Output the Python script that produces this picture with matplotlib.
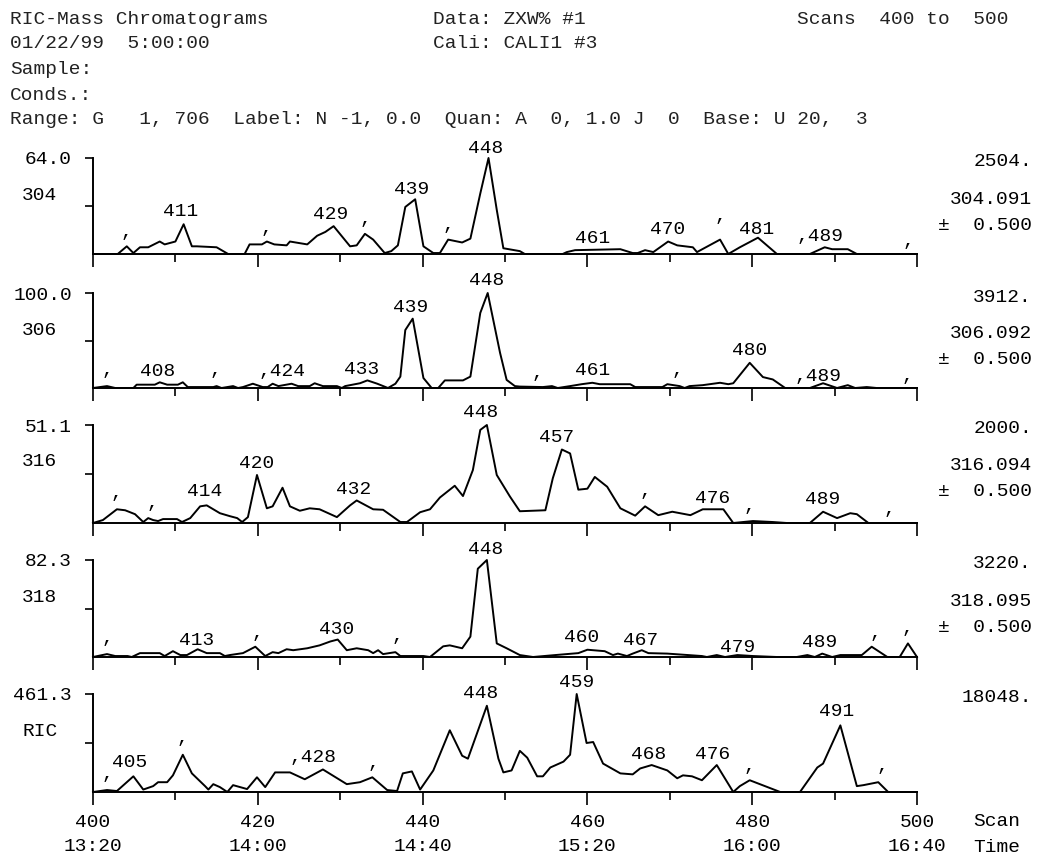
import matplotlib
matplotlib.use("Agg")
import matplotlib.pyplot as plt

# ---- data (scan number, % of panel maximum) ----
scan_304 = [400, 403, 404.1, 404.9, 405.7, 406.7, 408.1, 408.7, 410, 411, 412, 412.6, 415, 416.4,
            418.4, 419, 420.5, 421.1, 422, 423.5, 423.9, 426, 427.2, 428.2, 429.2, 431.2, 432, 433,
            434, 435.4, 436.2, 437, 437.9, 439.1, 440.1, 441.3, 442.1, 443.1, 444.8, 445.8, 447, 448,
            449, 449.8, 451.8, 452.4, 457, 457.5, 458.5, 464, 465.5, 466.1, 467, 468, 469.8, 470.9,
            472.8, 473.3, 476.1, 477.1, 478.5, 480.7, 483, 487, 488.8, 489.7, 491.6, 492.7, 500]
int_304 = [0, 0, 8, 1, 7, 7, 13, 10, 13, 31, 8, 8, 7, 0,
           0, 10, 10, 13, 10, 9, 13, 10, 19, 23, 29, 8, 9, 21,
           15, 1, 3, 9, 49, 57, 8, 1, 1, 15, 12, 16, 63, 100,
           46, 6, 3, 0, 0, 2, 4, 5, 1, 1, 4, 2, 13, 9,
           7, 2, 15, 0, 7, 17, 0, 0, 7, 5, 5, 0, 0]

scan_306 = [400, 401.7, 402.7, 404.9, 405.3, 407.5, 408.1, 409, 410.3, 410.9, 411.5, 414.6, 415,
            415.6, 417, 417.6, 418.2, 419.4, 420.6, 421.2, 421.8, 422.5, 424.1, 424.9, 426.3, 426.9,
            427.9, 429.6, 430.2, 430.6, 432.4, 433.3, 434.5, 435.8, 436.7, 437.3, 437.9, 438.8,
            440.1, 441.1, 441.9, 442.7, 444.9, 445.8, 447, 447.9, 449.4, 450.2, 451.2, 451.8, 454.6,
            455.7, 456.4, 457.9, 459.3, 460.6, 461.5, 465.2, 465.8, 469.1, 469.7, 471.2, 471.8,
            472.4, 474, 476.1, 477.1, 477.7, 479.7, 481.3, 482.5, 484, 487, 488.6, 490.3, 491.6,
            492.5, 493.9, 495.1, 500]
int_306 = [0, 2, 0, 0, 3.5, 3.5, 6, 3.5, 3.5, 6, 1, 1, 2,
           0, 2, 0, 1, 4.5, 1, 1, 4.5, 2, 4.5, 2, 2, 5,
           2, 2, 0, 2, 5, 8, 4.5, 0, 4.5, 12, 61, 73,
           10.5, 0, 0, 8, 8, 12, 79, 100, 37, 8.5, 2, 1.5, 1,
           2, 0, 2, 4, 5.5, 4, 4, 1, 1, 4, 2, 0,
           2, 3, 5.5, 4, 5, 26.5, 11.5, 9, 0, 0, 5, 0, 3,
           0, 1, 0, 0]

scan_316 = [400, 401.2, 402.9, 403.9, 405.1, 406.1, 406.7, 407.3, 407.9, 408.5, 410.2, 410.8, 411.8,
            413, 413.8, 415.4, 416.6, 417.5, 418.1, 418.8, 419.9, 421.1, 421.8, 423, 423.9, 425.1,
            426.3, 427.5, 429.6, 431.2, 432, 434, 435.2, 437.3, 438.1, 439.7, 440.9, 442.1, 443.9,
            444.9, 446.1, 447, 447.8, 449, 450.6, 451.8, 454.9, 455.8, 456.9, 457.9, 458.9, 460,
            460.9, 462.4, 464, 465.8, 467, 468.6, 470.3, 472.5, 474, 476.5, 477.7, 480.1, 482.5,
            484.2, 487, 488.6, 490.3, 491.9, 492.7, 494.1, 500]
int_316 = [0, 3, 14, 13, 9, 1, 5, 3, 2, 4, 4, 1, 5,
           17, 18, 10, 7, 5, 1, 6, 49, 15, 17, 36, 17, 12.5,
           15, 14, 6, 18, 23, 14, 13.5, 1, 1, 11, 14, 26, 38,
           27.5, 54, 95, 100, 49, 27, 12, 13, 45.6, 75, 71, 34, 35,
           47, 37, 15, 7.5, 17, 8, 11.5, 8, 14, 14, 0, 2, 1,
           0, 0, 11.5, 5, 10, 9, 0, 0]

scan_318 = [400, 401.7, 402.7, 404.2, 404.7, 405.7, 408.1, 408.7, 409.7, 410.6, 411.4, 412.7, 413.8,
            415.4, 416, 416.6, 418.2, 419.7, 420.9, 421.8, 422.5, 423.5, 424.3, 426, 427.5, 428.8,
            429.7, 430.8, 432, 433.4, 434, 434.6, 435.2, 436.7, 437.3, 440.1, 440.9, 442.5, 443.3,
            444.8, 445.8, 446.7, 447.8, 449, 450.2, 451.8, 453.4, 456.1, 458.9, 460, 462.1, 463.1,
            463.7, 464.8, 465.5, 466.6, 467.4, 469.7, 473.9, 474.5, 475.7, 476.7, 478.2, 480.1, 483,
            485.4, 486.7, 487.6, 488.5, 489.7, 490.7, 493.3, 494.5, 496.4, 497.9, 498.9, 500]
int_318 = [0, 3, 1, 1, 0, 4, 4, 1, 6, 2, 2, 8, 4,
           4, 1, 2, 4, 10.6, 1, 5, 4, 8, 7, 9, 12, 16,
           18, 7, 9, 7, 4, 7, 3, 5, 1, 1, 0, 11, 12,
           9, 21, 91, 100, 14, 9, 2, 0, 2, 4, 7.5, 6, 2,
           3.5, 1, 3.5, 7, 4, 3.5, 1, 0, 2, 0, 2, 1, 0,
           0, 2, 0, 3.5, 0, 2, 2, 10.6, 0, 0, 14, 0]

scan_ric = [400, 401.7, 402.9, 404.9, 406.1, 407.3, 407.9, 409, 409.7, 410.9, 412, 413.6, 414,
            414.6, 415.4, 416.3, 417, 418.7, 419.9, 420.9, 422.1, 423.9, 425.7, 427.9, 430.8, 432.4,
            433.9, 435.7, 436.9, 437.6, 438.7, 439.7, 441.3, 443.3, 444.8, 445.5, 447.8, 449.2,
            449.8, 450.8, 451.8, 452.7, 453.9, 454.6, 455.5, 457.1, 457.9, 458.7, 459.9, 460.7,
            461.9, 464, 465.5, 466.4, 467.8, 469.7, 470.9, 471.6, 472.7, 473.9, 475.7, 477.7, 478.5,
            479.7, 483.4, 485.8, 487.9, 488.6, 490.7, 492.7, 493.5, 495.3, 496.5, 500]
int_ric = [0, 2, 1, 16, 2.5, 6, 10, 10, 17, 38, 19, 6, 2.5,
           8, 5, 0, 7, 3, 15, 5, 20, 20, 13, 23, 8, 10,
           15, 2, 1, 19, 21, 2.5, 22, 63, 37, 34, 88, 34,
           20, 22, 42, 35, 16, 16, 25, 31, 38, 100, 50, 51,
           29, 19, 18, 24, 27.5, 22, 14, 17, 16, 12, 27.5, 0, 6,
           12, 0, 0, 25, 29, 68, 6, 7, 10, 0, 0]

# peak labels: text, scan, height (% of panel)
lab_304 = ["411", "429", "439", "448", "461", "470", "481", ",489", ",", ",", ",", ",", ",", ","]
lx_304 = [410.6, 428.8, 438.7, 447.6, 460.6, 469.7, 480.5, 488.2, 404.1, 421.1, 433.0, 443.1, 476.1, 498.9]
ly_304 = [44, 41, 67, 110, 16, 26, 26, 18, 22, 27, 36, 30, 39, 13]

lab_306 = ["408", ",424", "433", "439", "448", "461", "480", ",489", ",", ",", ",", ",", ","]
lx_306 = [407.8, 422.9, 432.6, 438.5, 447.8, 460.6, 479.7, 488.0, 401.8, 414.8, 453.9, 470.9, 498.8]
ly_306 = [17, 17, 19, 85, 113, 18, 39, 12.6, 18, 18, 15.5, 18, 12]

lab_316 = ["414", "420", "432", "448", "457", "476", "489", ",", ",", ",", ",", ","]
lx_316 = [413.6, 419.9, 431.6, 447.0, 456.3, 475.2, 488.5, 402.9, 407.2, 467.0, 479.7, 496.7]
ly_316 = [32, 61, 34, 113, 87, 25.5, 23.5, 30.5, 20, 32.5, 17, 14]

lab_318 = ["413", "430", "448", "460", "467", "479", "489", ",", ",", ",", ",", ","]
lx_318 = [412.6, 429.6, 447.6, 459.3, 466.4, 478.2, 488.2, 401.8, 419.9, 436.9, 494.9, 498.8]
ly_318 = [17.5, 28, 111, 19.6, 17.5, 10, 15, 19, 24.6, 21.5, 24.6, 29]

lab_ric = ["405", ",428", "448", "459", "468", "476", "491", ",", ",", ",", ",", ","]
lx_ric = [404.5, 426.7, 447.0, 458.7, 467.4, 475.2, 490.3, 401.8, 410.9, 434.0, 479.7, 495.8]
ly_ric = [30, 35, 101, 112, 38, 38, 82, 18, 55, 29.5, 26, 26]

top_vals = ["64.0", "100.0", "51.1", "82.3", "461.3"]
mass_names = ["304", "306", "316", "318", "RIC"]
totals = ["2504.", "3912.", "2000.", "3220.", "18048."]
exact_mass = ["304.091", "306.092", "316.094", "318.095", None]
scan_ticks = [400, 420, 440, 460, 480, 500]
time_ticks = ["13:20", "14:00", "14:40", "15:20", "16:00", "16:40"]

header_left = ["RIC-Mass Chromatograms", "01/22/99  5:00:00", "Sample:", "Conds.:",
               "Range: G   1, 706  Label: N -1, 0.0  Quan: A  0, 1.0 J  0  Base: U 20,  3"]
header_mid = ["Data: ZXW% #1", "Cali: CALI1 #3"]
header_scans = "Scans  400 to  500"

# ---- layout (pixels) ----
W, H = 1039, 856
FS = 14
plt.rcParams['font.family'] = ['Liberation Mono', 'DejaVu Sans Mono']
plt.rcParams['font.size'] = FS

fig = plt.figure(figsize=(W / 100, H / 100), dpi=100)
fig.patch.set_facecolor("white")

def fx(px):
    return px / W

def fy(py):
    return 1 - py / H

# header, printed on a regular line pitch
hy = [19, 44, 70, 95, 120]
for t, y in zip(header_left, hy):
    fig.text(fx(10), fy(y), t, ha="left", va="center", color="#222222")
for t, y in zip(header_mid, hy):
    fig.text(fx(433), fy(y), t, ha="left", va="center", color="#222222")
fig.text(fx(797), fy(hy[0]), header_scans, ha="left", va="center", color="#222222")

bases = [254, 388, 523, 657, 792]
tops = [158, 293, 425, 560, 694]
x0, x1 = 93, 917

scans = [scan_304, scan_306, scan_316, scan_318, scan_ric]
ints = [int_304, int_306, int_316, int_318, int_ric]
labs = [lab_304, lab_306, lab_316, lab_318, lab_ric]
lxs = [lx_304, lx_306, lx_316, lx_318, lx_ric]
lys = [ly_304, ly_306, ly_316, ly_318, ly_ric]

for i in range(5):
    ax = fig.add_axes([fx(x0), fy(bases[i]), (x1 - x0) / W, (bases[i] - tops[i]) / H])
    ax.patch.set_alpha(0)
    ax.plot(scans[i], ints[i], color="black", lw=1.4, clip_on=False)
    ax.set_xlim(400, 500)
    ax.set_ylim(0, 100)
    for s in ["top", "right"]:
        ax.spines[s].set_visible(False)
    for s in ["left", "bottom"]:
        ax.spines[s].set_linewidth(1.4)
    ax.set_xticks(scan_ticks)
    ax.set_xticks(range(410, 500, 20), minor=True)
    ax.set_yticks([50, 100])
    ax.set_yticklabels([])
    ax.tick_params(axis="x", which="major", length=9.5, width=1.2, direction="out")
    ax.tick_params(axis="x", which="minor", length=5.5, width=1.2, direction="out")
    ax.tick_params(axis="y", length=6, width=1.2, direction="out")
    if i == 4:
        ax.set_xticklabels([f"{s}\n{t}" for s, t in zip(scan_ticks, time_ticks)],
                           linespacing=1.55)
        ax.tick_params(axis="x", which="major", pad=6)
    else:
        ax.set_xticklabels([])

    for t, lx, ly in zip(labs[i], lxs[i], lys[i]):
        ax.text(lx, ly, t, ha="center", va="center", clip_on=False)

    fig.text(fx(72), fy(tops[i] + 2), top_vals[i], ha="right", va="center")
    fig.text(fx(22), fy(tops[i] + 37), mass_names[i], ha="left", va="center")
    fig.text(fx(1032), fy(tops[i] + 4), totals[i], ha="right", va="center")
    if exact_mass[i] is not None:
        fig.text(fx(1032), fy(tops[i] + 41), exact_mass[i], ha="right", va="center")
        fig.text(fx(1032), fy(tops[i] + 67), "\u00b1  0.500", ha="right", va="center")

fig.text(fx(973), fy(822), "Scan", ha="left", va="center")
fig.text(fx(973), fy(848), "Time", ha="left", va="center")

fig.savefig("out.png", dpi=100)
